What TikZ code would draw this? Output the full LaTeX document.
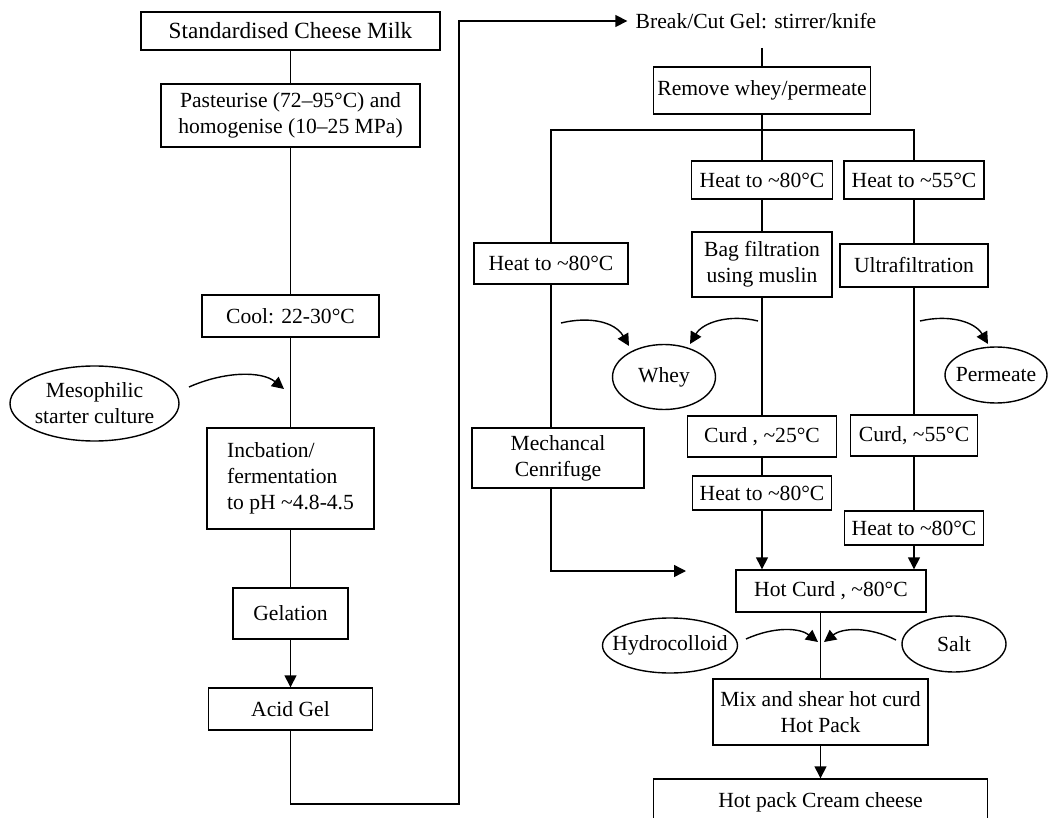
\documentclass[tikz,border=0pt]{standalone}
\usepackage{fontspec}
\setmainfont{Liberation Serif}
\usetikzlibrary{shapes.geometric, arrows.meta, positioning}

\begin{document}
\begin{tikzpicture}[x=0.5pt, y=-0.5pt,
  stage/.style={draw, line width=0.7pt, align=center, inner sep=2pt,
    font=\fontsize{10.8}{12.9}\selectfont},
  oval/.style={draw, ellipse, line width=0.7pt, align=center, inner sep=0pt,
    font=\fontsize{10.8}{12.9}\selectfont},
  link/.style={line width=0.7pt},
  arrow/.style={-{Triangle[length=6pt, width=6pt]}, line width=0.7pt}
]
\useasboundingbox (0,0) rectangle (1049,818);

% acidification column
\node[stage, minimum width=149.5pt, minimum height=19pt, font=\fontsize{11.6}{13}\selectfont] (milk) at (290.5,31) {Standardised Cheese Milk};
\node[stage, minimum width=129.5pt, minimum height=31.5pt, below=16.3pt of milk] (past) {Pasteurise (72–95°C) and\\homogenise (10–25 MPa)};
\node[stage, minimum width=88.5pt, minimum height=21pt, below=73.3pt of past] (cool) {Cool: 22-30°C};
\node[stage, align=left, inner xsep=10pt, minimum width=83.5pt, minimum height=50.5pt, below=44.8pt of cool] (incub) {Incbation/\\fermentation\\to pH \textasciitilde4.8-4.5};
\node[stage, minimum width=57.5pt, minimum height=25.5pt, below=28.8pt of incub] (gel) {Gelation};
\node[stage, minimum width=82pt, minimum height=21pt, below=23.8pt of gel] (acid) {Acid Gel};
\node[oval, minimum width=84.5pt, minimum height=37.5pt] (meso) at (94.5,403.5) {Mesophilic\\starter culture};

% separation branches
\node[font=\fontsize{10.8}{12.9}\selectfont, inner xsep=4pt, inner ysep=0pt] (brk) at (756,21) {Break/Cut Gel: stirrer/knife};
\node[stage, minimum width=108pt, minimum height=23.5pt] (rem) at (762,90.5) {Remove whey/permeate};
\node[stage, minimum width=70.5pt, minimum height=19pt] (heatm) at (762,180) {Heat to \textasciitilde80°C};
\node[stage, minimum width=70pt, minimum height=32.5pt, below=15.8pt of heatm] (bag) {Bag filtration\\using muslin};
\node[stage, minimum width=74.5pt, minimum height=20.5pt, below=58.8pt of bag] (curdm) {Curd , \textasciitilde25°C};
\node[stage, minimum width=69.5pt, minimum height=17pt, below=8.8pt of curdm] (heatml) {Heat to \textasciitilde80°C};

\node[stage, minimum width=70pt, minimum height=19pt] (heatr) at (914,180) {Heat to \textasciitilde55°C};
\node[stage, minimum width=74pt, minimum height=21.5pt, below=21.8pt of heatr] (ultra) {Ultrafiltration};
\node[stage, minimum width=63.5pt, minimum height=20.5pt, below=63.3pt of ultra] (curdr) {Curd, \textasciitilde55°C};
\node[stage, minimum width=69.5pt, minimum height=17pt, below=26.8pt of curdr] (heatrl) {Heat to \textasciitilde80°C};

\node[stage, minimum width=77pt, minimum height=20.5pt] (heatl) at (551,263.5) {Heat to \textasciitilde80°C};
\node[stage, minimum width=86pt, minimum height=30pt, below=71.3pt of heatl, xshift=3.5pt] (mech) {Mechancal\\Cenrifuge};

\node[oval, minimum width=51.5pt, minimum height=32.5pt] (whey) at (664,377) {Whey};
\node[oval, minimum width=51pt, minimum height=28pt, inner xsep=-2.5pt] (perm) at (996,375) {Permeate};

% finishing
\node[stage, minimum width=95pt, minimum height=21pt] (hotc) at (831,591) {Hot Curd , \textasciitilde80°C};
\node[oval, minimum width=67.5pt, minimum height=27.5pt, inner xsep=-5pt] (hydro) at (670,645.5) {Hydrocolloid};
\node[oval, minimum width=52pt, minimum height=28pt] (salt) at (954,644) {Salt};
\node[stage, minimum width=107.5pt, minimum height=33pt] (mix) at (820.5,712) {Mix and shear hot curd\\Hot Pack};
\node[stage, minimum width=167pt, minimum height=23pt, below=16.3pt of mix] (pack) {Hot pack Cream cheese};

% free ends
\coordinate (loop) at (459,804);
\coordinate (brkfoot) at (762,48);
\coordinate (split) at (762,130);
\coordinate (mechend) at (686,571);
\coordinate (mesoout) at (189,387);
\coordinate (mesoin) at (284,389);
\coordinate (wlout) at (561,323);
\coordinate (wlin) at (629,346);
\coordinate (wrout) at (758,321);
\coordinate (wrin) at (690,344);
\coordinate (pout) at (920,321);
\coordinate (pin) at (988,344);
\coordinate (hout) at (746,639);
\coordinate (hin) at (818,642);
\coordinate (sout) at (896,640);
\coordinate (sin) at (824,642);

\draw[link] (milk) -- (past) -- (cool) -- (incub) -- (gel);
\draw[arrow] (gel) -- (acid);
\draw[arrow] (acid.south) |- (loop) |- (brk.west);
\draw[link] (brkfoot) -- (rem);
\draw[link] (rem) -- (heatm);
\draw[link] (heatl.north) |- (split) -| (heatr.north);
\draw[link] (heatm) -- (bag) -- (curdm) -- (heatml);
\draw[arrow] (heatml) -- (heatml |- hotc.north);
\draw[link] (heatr) -- (ultra) -- (curdr) -- (heatrl);
\draw[arrow] (heatrl) -- (heatrl |- hotc.north);
\draw[link] (heatl.south) -- (heatl.south |- mech.north);
\draw[arrow] (heatl.south |- mech.south) |- (mechend);
\draw[link] (hotc.south -| mix.north) -- (mix.north);
\draw[arrow] (mix) -- (pack);

\draw[arrow] (mesoout) .. controls (225,371) and (262,371) .. (mesoin);
\draw[arrow] (wlout) .. controls (590,316) and (615,322) .. (wlin);
\draw[arrow] (wrout) .. controls (730,314) and (703,322) .. (wrin);
\draw[arrow] (pout) .. controls (950,314) and (975,322) .. (pin);
\draw[arrow] (hout) .. controls (775,626) and (800,628) .. (hin);
\draw[arrow] (sout) .. controls (868,626) and (842,628) .. (sin);
\end{tikzpicture}
\end{document}
